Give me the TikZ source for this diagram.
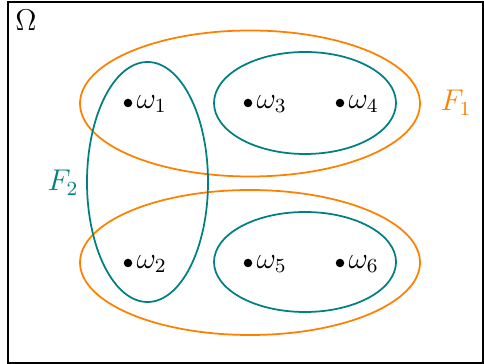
\documentclass[tikz,border=0pt]{standalone}
\usetikzlibrary{shapes.geometric}
\definecolor{myorange}{RGB}{255,128,0}
\definecolor{myteal}{RGB}{0,128,128}
\begin{document}
\begin{tikzpicture}[x=0.4pt,y=-0.4pt,
  every node/.style={font=\fontsize{11.5}{13}\selectfont},
  setell/.style={ellipse,draw,line width=0.7pt,inner sep=0pt},
  pt/.style={circle,fill=black,inner sep=0pt,minimum size=3.4pt},
  lbl/.style={anchor=west,inner sep=0pt}]
\useasboundingbox (0,0) rectangle (484,364);
\node[draw,line width=0.8pt,inner sep=0pt,minimum width=190pt,minimum height=144.4pt] (frame) at (245.5,182.5) {};
\node (om) at (26,20) {$\Omega$};
% orange sets
\node[setell,myorange,minimum width=136pt,minimum height=58.4pt] (e1) at (250,103.5) {};
\node[setell,myorange,minimum width=136pt,minimum height=58pt] (e2) at (250,262.5) {};
% teal sets
\node[setell,myteal,minimum width=48.4pt,minimum height=96pt] (f2) at (147.5,182) {};
\node[setell,myteal,minimum width=72.8pt,minimum height=40.8pt] (t1) at (305,103) {};
\node[setell,myteal,minimum width=72.8pt,minimum height=40pt] (t2) at (305,262) {};
% labels
\node[text=myorange] (F1) at (456,103) {$F_1$};
\node[text=myteal] (F2) at (63,183) {$F_2$};
% points
\node[pt] (p1) at (128,103) {}; \node[lbl] (l1) at (136,104) {$\omega_1$};
\node[pt] (p3) at (248,103) {}; \node[lbl] (l3) at (256,104) {$\omega_3$};
\node[pt] (p4) at (340,103) {}; \node[lbl] (l4) at (348,104) {$\omega_4$};
\node[pt] (p2) at (128,263) {}; \node[lbl] (l2) at (136,264) {$\omega_2$};
\node[pt] (p5) at (248,263) {}; \node[lbl] (l5) at (256,264) {$\omega_5$};
\node[pt] (p6) at (340,263) {}; \node[lbl] (l6) at (348,264) {$\omega_6$};
\end{tikzpicture}
\end{document}
